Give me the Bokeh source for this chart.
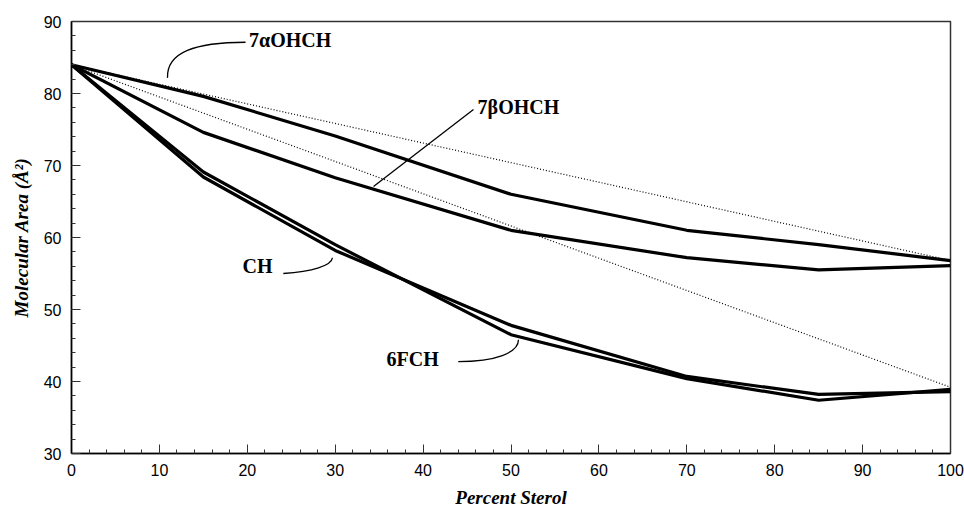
from bokeh.plotting import figure
from bokeh.models import Range1d, FixedTicker
from bokeh.core.properties import value
from bokeh.embed import file_html
from bokeh.resources import INLINE

# Percent sterol
pct = [0, 15, 30, 50, 70, 85, 100]
# Molecular area (Å^2)
area_7aOHCH = [84.0, 79.6, 74.1, 66.0, 61.0, 59.0, 56.8]
area_7bOHCH = [84.0, 74.6, 68.3, 61.0, 57.2, 55.5, 56.1]
area_CH = [84.0, 68.4, 58.2, 47.8, 40.7, 38.2, 38.6]
area_6FCH = [84.0, 69.1, 59.0, 46.5, 40.4, 37.4, 38.9]
# Ideal (additivity) lines
ideal_pct = [0, 100]
ideal_7aOHCH = [84.0, 56.8]
ideal_CH = [84.0, 39.2]

x_ticks = list(range(0, 101, 10))
y_ticks = list(range(30, 91, 10))

p = figure(width=964, height=510, output_backend="svg", toolbar_location=None,
           x_range=Range1d(0, 100), y_range=Range1d(30, 90))
p.min_border_left = 71
p.min_border_right = 14
p.min_border_top = 21
p.min_border_bottom = 52
p.grid.visible = False
p.outline_line_color = "#333333"
p.outline_line_width = 1.5
p.background_fill_color = "white"
p.border_fill_color = "white"

for ax in (p.xaxis[0], p.yaxis[0]):
    ax.axis_line_width = 1.5
    ax.axis_line_color = "black"
    ax.major_tick_in = 9
    ax.major_tick_out = 0
    ax.minor_tick_in = 4
    ax.minor_tick_out = 0
    ax.major_tick_line_color = "#333333"
    ax.minor_tick_line_color = "#333333"
    ax.major_label_text_font = "Liberation Sans"
    ax.major_label_text_font_size = "16px"
    ax.major_label_text_color = "black"
    ax.major_label_standoff = 10
    ax.axis_label_text_font = "Liberation Serif"
    ax.axis_label_text_font_style = "bold italic"
    ax.axis_label_text_font_size = "19px"
    ax.axis_label_text_color = "black"

p.xaxis.ticker = FixedTicker(ticks=x_ticks, minor_ticks=list(range(0, 101, 2)))
p.yaxis.ticker = FixedTicker(ticks=y_ticks, minor_ticks=list(range(30, 91, 2)))
p.xaxis.axis_label = "Percent Sterol"
p.yaxis.axis_label = "Molecular Area (Å²)"
p.xaxis.axis_label_standoff = 8
p.yaxis.axis_label_standoff = 9

# ideal lines (dotted)
for ys in (ideal_7aOHCH, ideal_CH):
    p.line(ideal_pct, ys, line_color="black", line_width=1.2, line_dash="1 2")

# measured isotherm areas
for ys in (area_7aOHCH, area_7bOHCH, area_CH, area_6FCH):
    p.line(pct, ys, line_color="black", line_width=3.2, line_join="round")

# leader lines
p.bezier(x0=[19.8, 24.1, 44.0], y0=[87.12, 55.0, 42.77],
         x1=[10.92, 29.69, 50.85], y1=[82.17, 57.18, 45.79],
         cx0=[14.11, 27.4, 48.24], cy0=[87.12, 55.26, 42.77],
         cx1=[10.81, 29.6, 50.85], cy1=[85.74, 56.1, 44.0],
         line_color="black", line_width=1.3)
p.segment(x0=[45.73], y0=[77.78], x1=[34.36], y1=[67.07],
          line_color="black", line_width=1.3)

p.text(x=[20.2, 46.2, 19.45, 35.84], y=[87.39, 78.19, 56.08, 43.18],
       text=["7αOHCH", "7βOHCH", "CH", "6FCH"],
       text_font=value("Liberation Serif"), text_font_style="bold",
       text_font_size="20px", text_baseline="middle", text_align="left",
       text_color="black")

open("out.html", "w").write(file_html(p, INLINE))
